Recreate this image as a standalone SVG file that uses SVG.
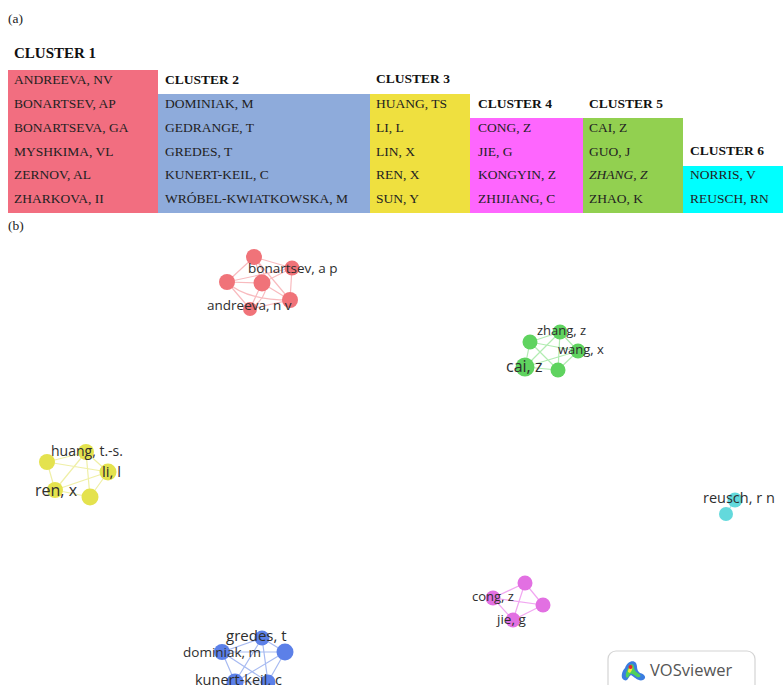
<svg xmlns="http://www.w3.org/2000/svg" width="783" height="685" viewBox="0 0 783 685">
<style>
.t{font-family:"Liberation Serif","Times New Roman",serif;font-size:13.5px;fill:#222}
.h{font-family:"Liberation Serif","Times New Roman",serif;font-size:13.5px;font-weight:bold;fill:#111}
.lbl{font-family:"Open Sans","DejaVu Sans",sans-serif;font-size:13.5px;fill:#2e2e2e}
.e{fill:none;stroke-width:1.2}
</style>
<rect width="783" height="685" fill="#ffffff"/>
<text class="t" x="8" y="23">(a)</text>
<text class="t" x="8" y="230">(b)</text>
<g id="table">
<rect x="8" y="70" width="150" height="143" fill="#f26e80"/>
<rect x="158" y="94" width="212" height="119" fill="#8eabdb"/>
<rect x="370" y="94" width="100" height="119" fill="#efe03f"/>
<rect x="470" y="118" width="113" height="95" fill="#fe66fe"/>
<rect x="583" y="118" width="100" height="95" fill="#92d050"/>
<rect x="683" y="166" width="100" height="47" fill="#00ffff"/>
<text class="h" x="14" y="58" style="font-size:15px">CLUSTER 1</text>
<text class="t" x="14" y="84">ANDREEVA, NV</text>
<text class="t" x="14" y="108">BONARTSEV, AP</text>
<text class="t" x="14" y="132">BONARTSEVA, GA</text>
<text class="t" x="14" y="156">MYSHKIMA, VL</text>
<text class="t" x="14" y="179">ZERNOV, AL</text>
<text class="t" x="14" y="203">ZHARKOVA, II</text>
<text class="h" x="165" y="84">CLUSTER 2</text>
<text class="t" x="165" y="108">DOMINIAK, M</text>
<text class="t" x="165" y="132">GEDRANGE, T</text>
<text class="t" x="165" y="156">GREDES, T</text>
<text class="t" x="165" y="179">KUNERT-KEIL, C</text>
<text class="t" x="165" y="203">WRÓBEL-KWIATKOWSKA, M</text>
<text class="h" x="376" y="83">CLUSTER 3</text>
<text class="t" x="376" y="108">HUANG, TS</text>
<text class="t" x="376" y="132">LI, L</text>
<text class="t" x="376" y="156">LIN, X</text>
<text class="t" x="376" y="179">REN, X</text>
<text class="t" x="376" y="203">SUN, Y</text>
<text class="h" x="478" y="108">CLUSTER 4</text>
<text class="t" x="478" y="132">CONG, Z</text>
<text class="t" x="478" y="156">JIE, G</text>
<text class="t" x="478" y="179">KONGYIN, Z</text>
<text class="t" x="478" y="203">ZHIJIANG, C</text>
<text class="h" x="589" y="108">CLUSTER 5</text>
<text class="t" x="589" y="132">CAI, Z</text>
<text class="t" x="589" y="156">GUO, J</text>
<text class="t" x="589" y="179" font-style="italic">ZHANG, Z</text>
<text class="t" x="589" y="203">ZHAO, K</text>
<text class="h" x="690" y="155">CLUSTER 6</text>
<text class="t" x="690" y="179">NORRIS, V</text>
<text class="t" x="690" y="203">REUSCH, RN</text>
</g>
<g id="connectors">
<g stroke="#f6a9ae" class="e" opacity="0.8">
<path d="M254 257L227 282M254 257L262 283M254 257L292 268M254 257L290 300M227 282L262 283M227 282L250 309M227 282L292 268M262 283L292 268M262 283L290 300M262 283L250 309M292 268L290 300M290 300L250 309M227 282Q245 300 290 300M254 257Q280 290 250 309"/>
</g>
<g stroke="#9ee79e" class="e" opacity="0.8">
<path d="M530 342L560 332M530 342L525 367M530 342L558 370M530 342L578 351M560 332L525 367M560 332L578 351M578 351L525 367M578 351L558 370M525 367L558 370M560 332L558 370"/>
</g>
<g stroke="#eded9c" class="e" opacity="0.9">
<path d="M47 462L86 452M47 462L55 490M86 452L108 472M86 452L90 497M108 472L90 497M55 490L90 497M47 462L108 472M55 490L108 472M86 452L55 490"/>
</g>
<g stroke="#ef9cef" class="e" opacity="0.9">
<path d="M525 583L493 598M525 583L543 605M493 598L513 620M543 605L513 620M493 598L543 605M525 583L513 620"/>
</g>
<g stroke="#9db3f0" class="e" opacity="0.9">
<path d="M222 652L262 638M222 652L285 652M222 652L235 682M222 652L268 682M262 638L285 652M262 638L235 682M262 638L268 682M285 652L235 682M285 652L268 682M235 682L268 682"/>
</g>
<g stroke="#9de8ea" class="e">
<path d="M735 500L726 514"/>
</g>
</g>
<g id="cluster-red" fill="#f07379">
<circle cx="254" cy="257" r="8"/>
<circle cx="227" cy="282" r="8"/>
<circle cx="262" cy="283" r="8.5"/>
<circle cx="292" cy="268" r="7.5"/>
<circle cx="290" cy="300" r="8"/>
<circle cx="250" cy="309" r="7"/>
<text class="lbl" x="248" y="273">bonartsev, a p</text>
<text class="lbl" x="207" y="310">andreeva, n v</text>
</g>
<g id="cluster-green" fill="#5fd35f">
<circle cx="530" cy="342" r="7.5"/>
<circle cx="560" cy="332" r="7.5"/>
<circle cx="578" cy="351" r="7.5"/>
<circle cx="525" cy="367" r="9.5"/>
<circle cx="558" cy="370" r="7.5"/>
<text class="lbl" x="537" y="335" style="font-size:13px">zhang, z</text>
<text class="lbl" x="558" y="354" style="font-size:13px">wang, x</text>
<text class="lbl" x="506" y="372" style="font-size:16px">cai, z</text>
</g>
<g id="cluster-yellow" fill="#e4e24e">
<circle cx="86" cy="452" r="8"/>
<circle cx="47" cy="462" r="8"/>
<circle cx="108" cy="472" r="8.5"/>
<circle cx="55" cy="490" r="8"/>
<circle cx="90" cy="497" r="8.5"/>
<text class="lbl" x="51" y="456" style="font-size:14px">huang, t.-s.</text>
<text class="lbl" x="102" y="477" style="font-size:15px">li, l</text>
<text class="lbl" x="35" y="496" style="font-size:16px">ren, x</text>
</g>
<g id="cluster-magenta" fill="#e270e2">
<circle cx="525" cy="583" r="7.5"/>
<circle cx="493" cy="598" r="7.5"/>
<circle cx="543" cy="605" r="7.5"/>
<circle cx="513" cy="620" r="7.5"/>
<text class="lbl" x="472" y="601" style="font-size:13px">cong, z</text>
<text class="lbl" x="497" y="624">jie, g</text>
</g>
<g id="cluster-blue" fill="#5c80e8">
<circle cx="262" cy="638" r="7.5"/>
<circle cx="222" cy="652" r="8"/>
<circle cx="285" cy="652" r="8.5"/>
<circle cx="235" cy="682" r="8.5"/>
<circle cx="268" cy="682" r="7.5"/>
<text class="lbl" x="226" y="641" style="font-size:15px">gredes, t</text>
<text class="lbl" x="183" y="657">dominiak, m</text>
<text class="lbl" x="195" y="685" style="font-size:14.5px">kunert-keil, c</text>
</g>
<g id="cluster-cyan" fill="#63d9dc">
<circle cx="735" cy="500" r="7.5"/>
<circle cx="726" cy="514" r="7"/>
<text class="lbl" x="703" y="503" style="font-size:14.5px">reusch, r n</text>
</g>
<g id="vosviewer-logo">
<rect x="608" y="651" width="147" height="44" rx="8" fill="#ffffff" stroke="#d4d4d4" stroke-width="1.2"/>
<path d="M624 680C620 678 622 671 625 668C627 662 633 659 636 663C638 667 636 670 640 673C645 674 647 678 643 680C639 682 634 677 631 675C628 677 628 682 624 680Z" fill="#3a7de0"/>
<path d="M626 677C625 673 628 669 629 666C631 663 634 664 634 667C634 670 636 672 639 674C642 676 640 678 637 677C634 675 632 673 630 674C629 676 628 679 626 677Z" fill="#4fd05a"/>
<path d="M628 672C628 669 630 666 632 666C633 668 632 671 630 673Z" fill="#f5e83a"/>
<circle cx="630.5" cy="667" r="2" fill="#e8232a"/>
<text x="650" y="676" style="font-family:'Open Sans','DejaVu Sans',sans-serif;font-size:16.5px;fill:#555">VOSviewer</text>
</g>
</svg>
